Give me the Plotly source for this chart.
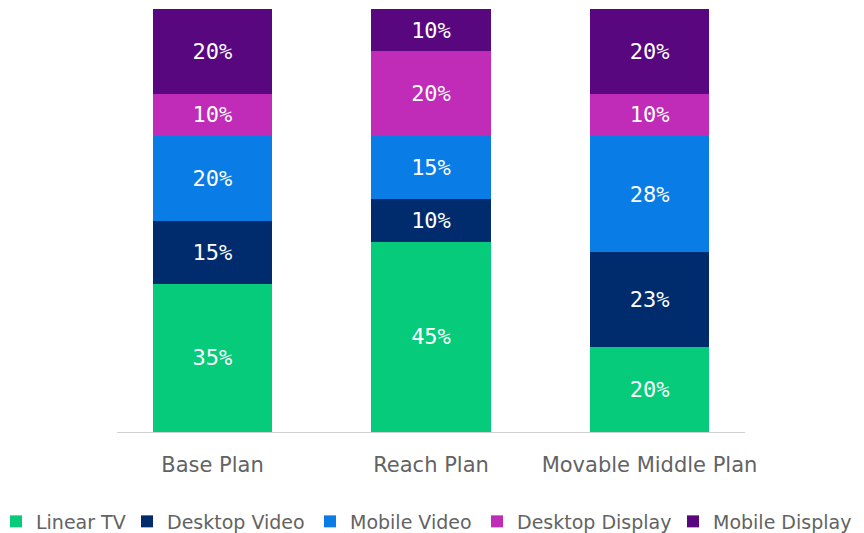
import plotly.graph_objects as go

categories = ["Base Plan", "Reach Plan", "Movable Middle Plan"]
series_names = ["Linear TV", "Desktop Video", "Mobile Video", "Desktop Display", "Mobile Display"]
linear_tv = [35, 45, 20]
desktop_video = [15, 10, 22.5]
mobile_video = [20, 15, 27.5]
desktop_display = [10, 20, 10]
mobile_display = [20, 10, 20]
labels_linear_tv = ["35%", "45%", "20%"]
labels_desktop_video = ["15%", "10%", "23%"]
labels_mobile_video = ["20%", "15%", "28%"]
labels_desktop_display = ["10%", "20%", "10%"]
labels_mobile_display = ["20%", "10%", "20%"]
colors = ["#06CB7A", "#002C6E", "#0A7CE5", "#C02BB8", "#58077F"]

values = [linear_tv, desktop_video, mobile_video, desktop_display, mobile_display]
labels = [labels_linear_tv, labels_desktop_video, labels_mobile_video,
          labels_desktop_display, labels_mobile_display]

# page has an 8px body margin; the figure is sized to fit the window
W, H = 856, 525
legend_left_px = [0, 119, 302, 469, 665]
legend_indent = [-12, 0, 0, 0, 0]
legend_names = ["legend", "legend2", "legend3", "legend4", "legend5"]
text_gray = "#636363"

fig = go.Figure()
for name, vals, txt, col, lg in zip(series_names, values, labels, colors, legend_names):
    fig.add_trace(go.Bar(
        x=categories, y=vals, name=name, text=txt, legend=lg,
        marker=dict(color=col, line=dict(width=0)),
        textposition="inside", insidetextanchor="middle", textangle=0,
        textfont=dict(family="DejaVu Sans Mono", size=22, color="white"),
        hoverinfo="skip",
    ))

layout_legends = {}
for lg, lx, ind in zip(legend_names, legend_left_px, legend_indent):
    layout_legends[lg] = dict(
        orientation="h", xref="container", yref="container",
        x=lx / W, xanchor="left", y=1 - 513.5 / H, yanchor="middle",
        indentation=ind,
        font=dict(family="DejaVu Sans", size=19, color=text_gray),
        bgcolor="rgba(0,0,0,0)", borderwidth=0,
    )

fig.update_layout(
    barmode="stack",
    width=W, height=H,
    margin=dict(l=109, r=119, t=1, b=101, autoexpand=False),
    paper_bgcolor="white", plot_bgcolor="white",
    bargap=0.451,
    uniformtext=dict(mode="show", minsize=22),
    showlegend=True,
    font=dict(family="DejaVu Sans", color=text_gray),
    **layout_legends,
)
fig.update_xaxes(
    range=[-0.437, 2.437], showgrid=False, showline=True, linecolor="#d0d0d0", linewidth=1,
    ticks="", tickfont=dict(family="DejaVu Sans", size=21, color=text_gray), ticklabelstandoff=14,
)
fig.update_yaxes(range=[0, 100], visible=False, showgrid=False)

fig.write_html("out.html")
